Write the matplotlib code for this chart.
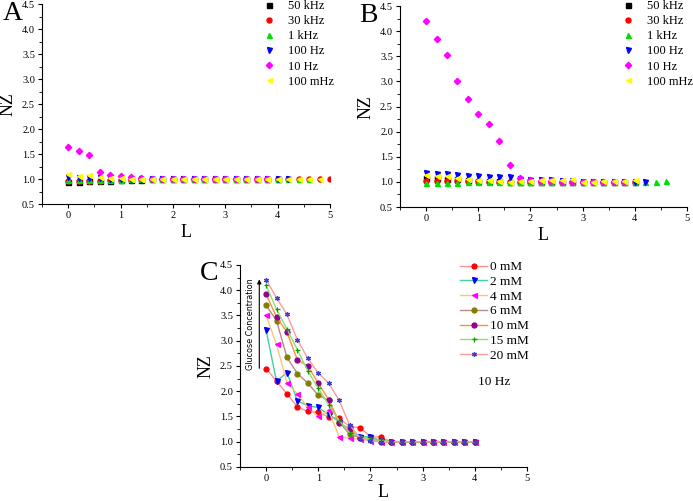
import numpy as np
import matplotlib.pyplot as plt
from matplotlib.ticker import MultipleLocator

plt.rcParams["font.family"] = ["Liberation Serif", "DejaVu Serif"]

L = [0.0, 0.2, 0.4, 0.6, 0.8, 1.0, 1.2, 1.4, 1.6, 1.8, 2.0, 2.2, 2.4,
     2.6, 2.8, 3.0, 3.2, 3.4, 3.6, 3.8, 4.0, 4.2, 4.4, 4.6, 4.8, 5.0]

freq_labels = ["50 kHz", "30 kHz", "1 kHz", "100 Hz", "10 Hz", "100 mHz"]
freq_colors = ["#000000", "#ff0000", "#00e000", "#0000ff", "#ff00ff", "#ffff00"]
freq_markers = ["s", "o", "^", "v", "D", "<"]

# panel A
a_50k = [0.95, 0.95, 0.96, 0.96, 0.97, 0.98, 0.99, 0.99, 1.0, 1.0, 1.0, 1.0, 1.0,
         1.0, 1.0, 1.0, 1.0, 1.0, 1.0, 1.0, 1.0]
a_30k = [0.96, 0.96, 0.97, 0.97, 0.98, 0.98, 0.99, 1.0, 1.0, 1.0, 1.0, 1.0, 1.0,
         1.0, 1.0, 1.0, 1.0, 1.0, 1.0, 1.0, 1.0, 1.0, 1.0, 1.0, 1.0, 1.0]
a_1k = [0.98, 0.98, 0.98, 0.99, 0.99, 0.99, 1.0, 1.0, 1.0, 1.0, 1.0, 1.0, 1.0,
        1.0, 1.0, 1.0, 1.0, 1.0, 1.0, 1.0, 1.0, 1.0, 1.0, 1.0]
a_100 = [1.04, 1.03, 1.02, 1.02, 1.01, 1.01, 1.0, 1.0, 1.0, 1.0, 1.0, 1.0, 1.0,
         1.0, 1.0, 1.0, 1.0, 1.0, 1.0, 1.0, 1.0, 1.0]
a_10 = [1.64, 1.56, 1.48, 1.15, 1.09, 1.06, 1.04, 1.02, 1.0, 1.0, 1.0, 1.0, 1.0,
        1.0, 1.0, 1.0, 1.0, 1.0, 1.0, 1.0]
a_100m = [1.1, 1.06, 1.08, 1.04, 1.03, 1.02, 1.01, 1.0, 1.0, 1.0, 1.0, 1.0, 1.0,
          1.0, 1.0, 1.0, 1.0, 1.0, 1.0, 1.0, 1.0, 1.0, 1.0, 1.0, 1.0]

# panel B
b_50k = [1.07, 1.07, 1.06, 1.05, 1.03, 1.02, 1.01, 1.01, 1.0, 1.0, 1.0, 1.0, 1.0,
         1.0, 1.0, 1.0, 1.0, 1.0, 1.0, 1.0, 1.0]
b_30k = [1.02, 1.02, 1.02, 1.01, 1.01, 1.01, 1.0, 1.0, 1.0, 1.0, 1.0, 1.0, 1.0,
         1.0, 1.0, 1.0, 1.0, 1.0, 1.0, 1.0, 1.0]
b_1k = [0.97, 0.98, 0.98, 0.98, 0.99, 1.0, 1.0, 1.0, 1.0, 1.0, 1.0, 1.0, 1.0,
        1.0, 1.0, 1.0, 1.0, 1.0, 1.0, 1.0, 1.0, 1.0, 1.0, 1.01]
b_100 = [1.17, 1.16, 1.15, 1.14, 1.12, 1.11, 1.1, 1.09, 1.09, 1.06, 1.04, 1.04, 1.03,
         1.02, 1.01, 1.0, 1.0, 1.0, 1.0, 1.0, 1.0, 0.99]
b_10 = [4.21, 3.85, 3.52, 3.01, 2.65, 2.36, 2.16, 1.82, 1.33, 1.07, 1.04, 1.02, 1.01,
        1.0, 1.0, 1.0, 1.0, 1.0, 1.0, 0.99]
b_100m = [1.13, 1.12, 1.11, 1.08, 1.05, 1.04, 1.03, 1.02, 1.0, 1.01, 1.02, 1.03, 1.04,
          1.03, 1.05, 1.0, 1.0, 1.01, 1.02, 1.02, 1.04]

# panel C (10 Hz, glucose)
gl_labels = ["0 mM", "2 mM", "4 mM", "6 mM", "10 mM", "15 mM", "20 mM"]
gl_line_colors = ["#ff9090", "#40d0a8", "#f5c878", "#b88a8a", "#ff9040", "#90e070", "#ff9a9a"]
gl_mark_colors = ["#ff0000", "#0000ff", "#ff00ff", "#808000", "#900090", "#00a000", "#4040d0"]
gl_markers = ["o", "v", "<", "o", "o", "+", (6, 2, 0)]
c_0 = [2.45, 2.2, 1.95, 1.69, 1.6, 1.58, 1.49, 1.47, 1.3, 1.28, 1.1, 1.09, 1.0,
       1.0, 1.0, 1.0, 1.0, 1.0, 1.0, 1.0, 1.0]
c_2 = [3.21, 2.2, 2.37, 1.81, 1.71, 1.68, 1.53, 1.4, 1.15, 1.1, 1.1, 1.02, 1.0,
       1.0, 1.0, 1.0, 1.0, 1.0, 1.0, 1.0, 1.0]
c_4 = [3.5, 2.93, 2.17, 1.95, 1.68, 1.5, 1.62, 1.1, 1.07, 1.05, 1.02, 1.0, 1.0,
       1.0, 1.0, 1.0, 1.0, 1.0, 1.0, 1.0, 1.0]
c_6 = [3.7, 3.4, 2.67, 2.35, 2.16, 1.92, 1.82, 1.4, 1.15, 1.08, 1.05, 1.02, 1.0,
       1.0, 1.0, 1.0, 1.0, 1.0, 1.0, 1.0, 1.0]
c_10 = [3.92, 3.47, 3.17, 2.62, 2.5, 2.16, 1.83, 1.38, 1.25, 1.08, 1.05, 1.0, 1.0,
        1.0, 1.0, 1.0, 1.0, 1.0, 1.0, 1.0, 1.0]
c_15 = [4.1, 3.62, 3.23, 2.82, 2.4, 2.06, 1.73, 1.42, 1.18, 1.1, 1.05, 1.02, 1.0,
        1.0, 1.0, 1.0, 1.0, 1.0, 1.0, 1.0, 1.0]
c_20 = [4.21, 3.85, 3.52, 3.02, 2.65, 2.36, 2.16, 1.82, 1.33, 1.08, 1.02, 1.0, 1.0,
        1.0, 1.0, 1.0, 1.0, 1.0, 1.0, 1.0, 1.0]


def style_axes(ax, xpad=3):
    ax.set_xlim(-0.5, 5)
    ax.set_ylim(0.5, 4.5)
    ax.xaxis.set_major_locator(MultipleLocator(1))
    ax.xaxis.set_minor_locator(MultipleLocator(0.5))
    ax.yaxis.set_major_locator(MultipleLocator(0.5))
    ax.yaxis.set_minor_locator(MultipleLocator(0.25))
    ax.yaxis.set_major_formatter(plt.FormatStrFormatter("%.1f"))
    for s in ["top", "right"]:
        ax.spines[s].set_visible(False)
    ax.tick_params(which="major", direction="out", length=3, width=0.8, labelsize=7.5, pad=2)
    ax.tick_params(which="minor", direction="out", length=2, width=0.6)
    ax.set_ylabel("NZ", fontsize=13, labelpad=4)
    ax.set_xlabel("L", fontsize=13, labelpad=xpad)


fig = plt.figure(figsize=(6.93, 5.01), dpi=100)
axA = fig.add_axes([0.0606, 0.5928, 0.4156, 0.3992])
axB = fig.add_axes([0.5772, 0.5868, 0.4141, 0.401])
axC = fig.add_axes([0.3463, 0.0679, 0.4141, 0.4032])

for ax, series, anchor in [(axA, [a_50k, a_30k, a_1k, a_100, a_10, a_100m], (0.767, 1.02)),
                           (axB, [b_50k, b_30k, b_1k, b_100, b_10, b_100m], (0.772, 1.03))]:
    for ys, lab, col, mk in zip(series, freq_labels, freq_colors, freq_markers):
        ms = 3.2 if mk == "D" else 3.6
        ax.plot(L[:len(ys)], ys, linestyle="none", marker=mk, color=col,
                markersize=ms, label=lab)
    style_axes(ax)
    ax.legend(loc="upper left", bbox_to_anchor=anchor, frameon=False,
              fontsize=9.0, handlelength=1.0, handletextpad=1.0, labelspacing=0.25,
              borderaxespad=0, borderpad=0)

orderC = [c_0, c_2, c_4, c_6, c_10, c_15, c_20]
for ys, lab, lc, mc, mk in zip(orderC, gl_labels, gl_line_colors, gl_mark_colors, gl_markers):
    axC.plot(L[:len(ys)], ys, color=lc, linewidth=1.0, marker=mk, markersize=3.6,
             markerfacecolor=mc, markeredgecolor=mc, markeredgewidth=0.9, label=lab)
style_axes(axC, xpad=1)
axC.legend(loc="upper left", bbox_to_anchor=(0.767, 1.02), frameon=False,
           fontsize=9.5, handlelength=2.05, handletextpad=0.25, labelspacing=0.19,
           borderaxespad=0, borderpad=0)
axC.text(4.06, 2.18, "10 Hz", fontsize=9.5, ha="left", va="center")

axC.annotate("", xy=(-0.13, 4.27), xytext=(-0.13, 2.4),
             arrowprops=dict(arrowstyle="-|>", color="black", lw=0.8, mutation_scale=6))
axC.text(-0.3, 3.33, "Glucose Concentration", rotation=90, fontsize=5.8,
         family=["DejaVu Sans"], ha="center", va="center")

fig.text(0.004, 0.974, "A", fontsize=20, va="center", ha="left")
fig.text(0.519, 0.97, "B", fontsize=20, va="center", ha="left")
fig.text(0.288, 0.455, "C", fontsize=20, va="center", ha="left")

fig.savefig("out.png", dpi=100)
